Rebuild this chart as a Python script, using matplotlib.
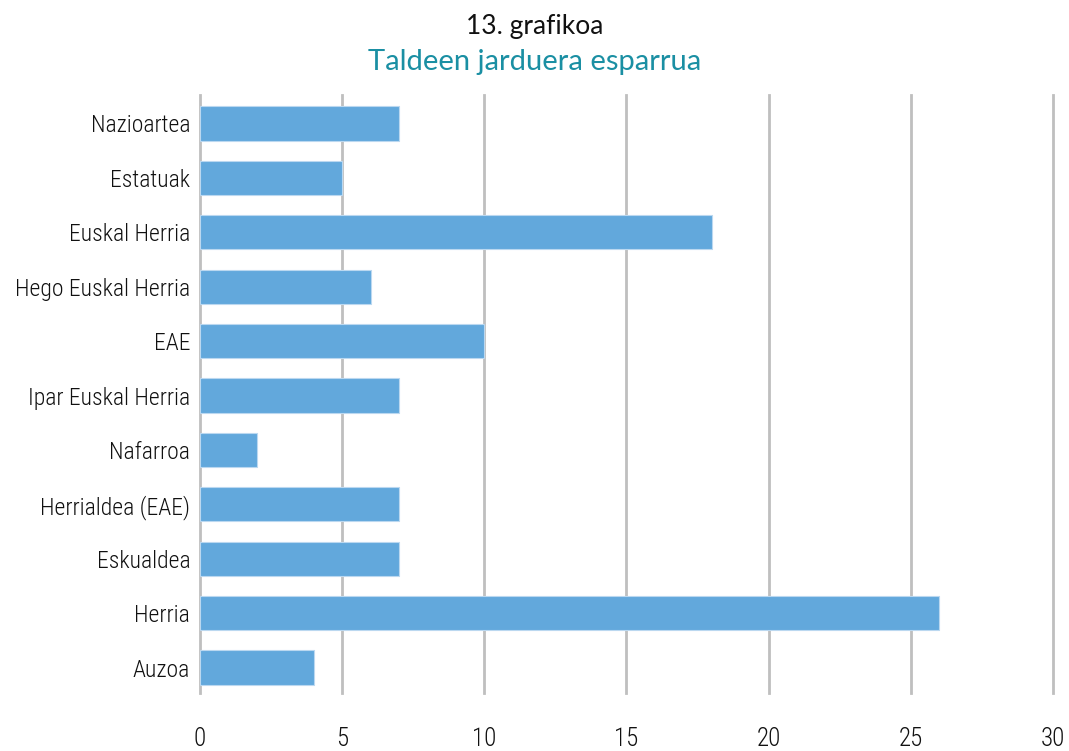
import matplotlib
matplotlib.use("Agg")
import matplotlib.pyplot as plt

categories = ["Nazioartea", "Estatuak", "Euskal Herria", "Hego Euskal Herria", "EAE",
              "Ipar Euskal Herria", "Nafarroa", "Herrialdea (EAE)", "Eskualdea", "Herria", "Auzoa"]
values = [7, 5, 18, 6, 10, 7, 2, 7, 7, 26, 4]
xticks = [0, 5, 10, 15, 20, 25, 30]

narrow = ['Roboto Condensed', 'Liberation Sans Narrow', 'Liberation Sans', 'DejaVu Sans']
plt.rcParams['font.family'] = narrow
plt.rcParams['font.weight'] = 'light'

fig = plt.figure(figsize=(10.69, 7.51), dpi=100)
ax = fig.add_axes([0.187, 0.077, 0.798, 0.797])

pos = list(range(len(categories)))
ax.barh(pos, values, height=0.63, color='#62A8DC', edgecolor='#BBD8F0', linewidth=0.8, zorder=3)

ax.set_xlim(0, 30)
ax.set_ylim(10.47, -0.53)
ax.set_xticks(xticks)
ax.set_yticks(pos)
ax.set_yticklabels(categories, fontsize=17, color='#111111')
ax.tick_params(axis='x', labelsize=18, labelcolor='#111111', length=0, pad=24)
ax.tick_params(axis='y', length=0, pad=7)

ax.grid(axis='x', color='#BFBFBF', linewidth=2, zorder=0)
for gl in ax.xaxis.get_gridlines():
    gl.set_clip_on(False)
ax.grid(axis='y', visible=False)
for s in ax.spines.values():
    s.set_visible(False)

fig.text(0.5, 0.965, "13. grafikoa", ha='center', va='center', fontsize=19, color='#111111',
         family=['Lato', 'DejaVu Sans'], fontweight='normal')
fig.text(0.5, 0.918, "Taldeen jarduera esparrua", ha='center', va='center', fontsize=21,
         color='#1A8FA3', family=['Lato', 'DejaVu Sans'], fontweight='normal')

fig.savefig("out.png", dpi=100)
